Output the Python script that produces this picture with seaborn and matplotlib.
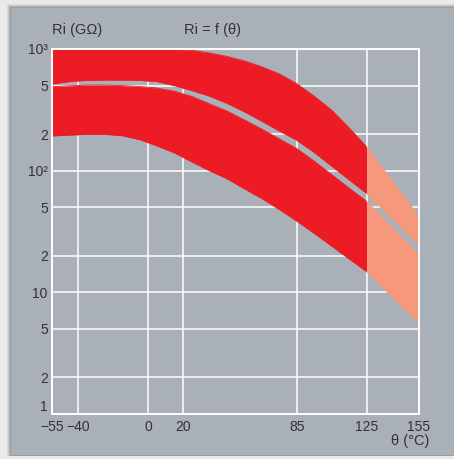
import numpy as np
import pandas as pd
import matplotlib
matplotlib.use("Agg")
import matplotlib.pyplot as plt
from matplotlib.patches import Rectangle
import seaborn as sns

# ---- data ----
temp = [-55, -45, -35, -25, -15, -5, 5, 15, 25, 35, 45, 55, 65, 75, 85, 95, 105,
        115, 125, 135, 145, 155]
upper_top = [1000, 1000, 1000, 1000, 1000, 1000, 1000, 1000, 975, 930, 870, 800,
             715, 625, 520, 410, 315, 225, 157, 101, 65, 42]
upper_bottom = [515, 540, 552, 555, 555, 552, 540, 500, 455, 410, 358, 305, 255,
                212, 178, 141, 109, 84, 65, 47, 34, 24.5]
lower_top = [490, 498, 505, 505, 500, 492, 478, 450, 408, 355, 310, 262, 220, 183,
             152, 120, 93, 72, 56, 40, 28.5, 20.3]
lower_bottom = [193, 196, 199, 199, 194, 180, 160, 140, 118, 100, 86, 71, 59, 48,
                38.5, 30.5, 24, 18.8, 14.8, 10.7, 7.7, 5.6]
limit_temp = 125

x_ticks = [-55, -40, 0, 20, 85, 125, 155]
x_labels = ["\u221255", "\u221240", "0", "20", "85", "125", "155"]
y_ticks = [1, 2, 5, 10, 20, 50, 100, 200, 500, 1000]
y_labels = ["1", "2", "5", "10", "2", "5", "10\u00b2", "2", "5", "10\u00b3"]

df = pd.DataFrame({"temp": temp, "u_top": upper_top, "u_bot": upper_bottom,
                   "l_top": lower_top, "l_bot": lower_bottom}).astype(float)

PANEL = "#a9b0b7"
RED = "#ed1c24"
SALMON = "#f5987b"
TXT = "#333333"

sns.set_theme(style="whitegrid", rc={"axes.facecolor": PANEL, "grid.color": "white"})
plt.rcParams["font.family"] = ["Liberation Sans Narrow", "Liberation Sans", "DejaVu Sans"]

fig = plt.figure(figsize=(4.54, 4.59), dpi=100, facecolor="#e9e9e9")
W, H = 454, 459
# soft shadow + grey panel
for i, a in enumerate([0.10, 0.14, 0.2, 0.28]):
    off = 4 - i
    fig.patches.append(Rectangle(((11 - off) / W, 3 / H), 1, (448 + off) / H,
                                 transform=fig.transFigure, color="#606060",
                                 alpha=a, zorder=-5, lw=0))
fig.patches.append(Rectangle((11 / W, 4 / H), 1, 447 / H, transform=fig.transFigure,
                             color=PANEL, zorder=-4, lw=0))

ax = fig.add_axes([52 / W, 45 / H, 367 / W, 365 / H])
ax.set_zorder(2)
ax.set_facecolor(PANEL)
ax.set_yscale("log")

left = df[df["temp"] <= limit_temp]
right = df[df["temp"] >= limit_temp]
for part, col in [(left, RED), (right, SALMON)]:
    ax.fill_between(part["temp"], part["u_bot"], part["u_top"], color=col, lw=0, zorder=2)
    ax.fill_between(part["temp"], part["l_bot"], part["l_top"], color=col, lw=0, zorder=2)
    for c in ["u_top", "u_bot", "l_top", "l_bot"]:
        sns.lineplot(data=part, x="temp", y=c, ax=ax, color=col, lw=0.6, zorder=2,
                     estimator=None)

ax.set_xlim(-55, 155)
ax.set_ylim(1, 1000)
ax.set_xticks(x_ticks)
ax.set_xticklabels(x_labels)
ax.set_yticks(y_ticks)
ax.set_yticklabels(y_labels)
ax.minorticks_off()
ax.set_xlabel("")
ax.set_ylabel("")
ax.grid(True, color="white", lw=1.1, zorder=1)
ax.set_axisbelow(True)
for s in ax.spines.values():
    s.set_visible(True)
    s.set_color("white")
    s.set_linewidth(1.4)
    s.set_zorder(5)
ax.tick_params(axis="both", length=0, labelsize=10, colors=TXT, pad=3)
ax.tick_params(axis="x", pad=4)
ax.get_yticklabels()[0].set_va("bottom")

fig.text(52 / W, 1 - 30 / H, "Ri (G\u03a9)", fontsize=10.5, color=TXT, va="center", ha="left")
fig.text(184 / W, 1 - 30 / H, "Ri = f (\u03b8)", fontsize=10.5, color=TXT, va="center", ha="left")
fig.text(429 / W, 1 - 441 / H, "\u03b8 (\u00b0C)", fontsize=10.5, color=TXT, va="center", ha="right")

fig.savefig("out.png", dpi=100, facecolor=fig.get_facecolor())
